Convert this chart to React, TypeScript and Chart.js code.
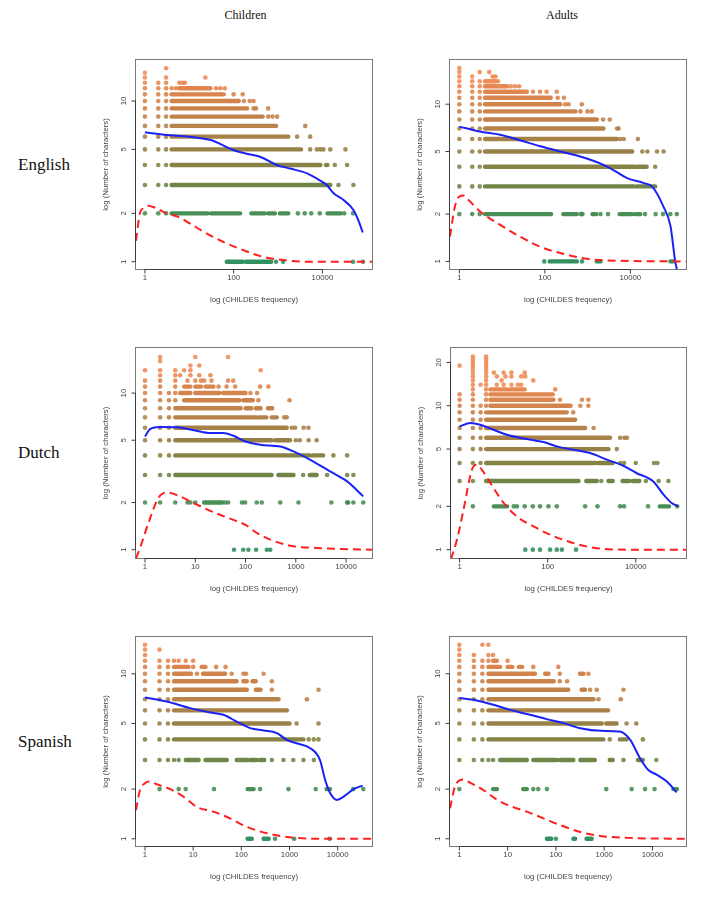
import { useEffect, useRef } from "react";
import { Chart, registerables } from "chart.js";

Chart.register(...registerables);

// A row is [number of characters, items]; a plain number is one word at that
// frequency, a pair [from, to] is a packed run of words spanning that range.
type Item = number | [number, number];
type Row = [number, Item[]];

// ---------------- English, children ----------------
const EN_CHILD_ROWS: Row[] = [
  [16, [3]],
  [15, [1]],
  [14, [1, 3, 23]],
  [13, [1, 2, 3, 6, 7, 8]],
  [12, [1, 2, 3, 4, 5, [6, 30], 40, 50, 63]],
  [11, [1, 2, 3, [4, 60], 100, 160]],
  [10, [1, 2, 3, [4, 130], 170, 230, 280]],
  [9, [1, 2, 3, [4, 200], 280, 320, 600]],
  [8, [1, 2, 3, [4, 450], 600, 750, 950]],
  [7, [1, 2, 3, [4, 900], 4100]],
  [6, [1, 2, 3, [4, 1700], 2700, 5300]],
  [5, [1, 2, 3, [4, 3300], 5300, 7500, 9000, 10500, 15000, 33000]],
  [4, [1, 2, 3, [4, 9000], 12000, 13000, 19000, 36000]],
  [3, [1, 2, 3, [4, 15000], 23000, 50000]],
  [2, [1, 2, 3, [4, 26], [31, 140], [250, 500], [600, 850], [1100, 1700], 2800, 4000, 5600, 8700, [13000, 26000], 31000, 49000]],
  [1, [[70, 160], [190, 320], [360, 700], 900, 1300, 49000, 82000]],
];
const EN_CHILD_SMOOTH_X = [1, 3.1, 10, 32, 58, 98, 197, 392, 935, 1880, 4500, 8900, 12500, 17800, 30000, 50000, 64000, 81000];
const EN_CHILD_SMOOTH_Y = [6.4, 6.15, 6.0, 5.7, 5.3, 4.96, 4.7, 4.5, 4.0, 3.8, 3.55, 3.2, 3.0, 2.67, 2.42, 2.1, 1.82, 1.52];
const EN_CHILD_DENSITY_X = [0.63, 0.77, 0.92, 1.19, 1.68, 3.1, 5.66, 10.3, 20.7, 58, 165, 470, 1320, 4500, 131000];
const EN_CHILD_DENSITY_Y = [1.35, 2.0, 2.15, 2.23, 2.17, 2.0, 1.9, 1.73, 1.54, 1.33, 1.18, 1.07, 1.025, 1.0, 1.0];
const EN_CHILD_X_LIMITS = [0.63, 131000];
const EN_CHILD_Y_LIMITS = [0.901, 18.0];

// ---------------- English, adults ----------------
const EN_ADULT_ROWS: Row[] = [
  [17, [1]],
  [16, [1, 3, 5]],
  [15, [1, 2, 6, 7]],
  [14, [1, 2, 3, [4, 7], 8]],
  [13, [1, 2, 3, [4, 13], 16, 20, 25]],
  [12, [1, 2, 3, [4, 38], 53, 77, 110, 190]],
  [11, [1, 2, 3, [4, 137], 200, 280]],
  [10, [1, 2, 3, [4, 230], 300, 360, 730]],
  [9, [1, 2, 3, [4, 520], 680, 990, 1250]],
  [8, [1, 2, 3, [4, 1650], 2300, 3300]],
  [7, [1, 2, 3, [4, 2350], 4900, 5300]],
  [6, [1, 2, 3, [4, 4800], 5800, 7000, 15000]],
  [5, [1, 2, 3, [4, 11000], 19000, 25000, 42000, 60000]],
  [4, [1, 2, 3, [4, 12000], [14000, 24000], 38000]],
  [3, [1, 2, 3, [4, 12000], [14000, 38000]]],
  [2, [1, 2, 3, [4, 140], [270, 560], 700, 760, [1300, 1600], 2000, 3000, [5600, 11000], [13000, 17000], 22000, 39000, 58000, 86000, 122000]],
  [1, [97, [130, 560], 740, [1640, 2000], [87000, 100000]]],
];
const EN_ADULT_SMOOTH_X = [1, 3, 9, 26, 78, 230, 670, 1960, 4100, 8400, 20600, 32000, 59000, 87000, 112000, 125000];
const EN_ADULT_SMOOTH_Y = [7.2, 6.7, 6.4, 5.9, 5.4, 5.0, 4.65, 4.2, 3.8, 3.39, 3.15, 3.0, 2.24, 1.67, 1.0, 0.87];
const EN_ADULT_DENSITY_X = [0.605, 0.79, 1.0, 1.24, 1.62, 3.05, 9, 26, 78, 230, 960, 4800, 200000];
const EN_ADULT_DENSITY_Y = [1.44, 2.24, 2.59, 2.63, 2.47, 2.08, 1.71, 1.44, 1.24, 1.13, 1.04, 1.01, 1.0];
const EN_ADULT_X_LIMITS = [0.605, 200000];
const EN_ADULT_Y_LIMITS = [0.895, 19.1];

// ---------------- Dutch, children ----------------
const NL_CHILD_ROWS: Row[] = [
  [17, [2, 10, 45]],
  [16, [2]],
  [15, [8, 12]],
  [14, [1, 2, 4, 6, 8, 200]],
  [13, [2, 4, 5, 8, 12, 20]],
  [12, [1, 2, 4, 7, 10, 13, 15, 21, 45, 57]],
  [11, [1, 2, 4, [6, 8], [10, 13], [16, 23], 29, 42, 62, 195, 285]],
  [10, [1, 2, 3, 4, [5, 8], [10, 30], [36, 100], 125, 170]],
  [9, [1, 2, 3, 4, [6, 75], [90, 140], 180, 750]],
  [8, [1, 2, 3, [4, 80], [100, 130], [160, 200], [280, 340]]],
  [7, [1, 2, 3, [4, 170], [190, 260], [330, 420], 590, 660]],
  [6, [1, 2, 3, [4, 660], 830, 970, 1430, 1790]],
  [5, [1, 2, 3, [4, 330], [390, 770], 1000, 1200, 1800, 2600]],
  [4, [1, 2, 3, [4, 1900], [2200, 3500], 5600, 10500]],
  [3, [1, 2, 3, [4, 330], [450, 900], 1400, [1900, 2600], 4200, 10500, 14000]],
  [2, [1, 2, 4, 7, 8, 10, [15, 34], 39, 45, 85, 98, 167, 210, 490, 1130, 5100, 10500, 11000, 14000, 22000]],
  [1, [59, 90, 114, 162, 265, 310]],
];
const NL_CHILD_SMOOTH_X = [1, 1.26, 2, 4.3, 10, 19.6, 36, 57, 100, 195, 490, 900, 1940, 4800, 10500, 22000];
const NL_CHILD_SMOOTH_Y = [5.28, 5.89, 6.07, 6.05, 5.77, 5.56, 5.56, 5.34, 4.91, 4.68, 4.56, 4.24, 3.75, 3.16, 2.73, 2.19];
const NL_CHILD_DENSITY_X = [0.662, 0.795, 1.17, 1.84, 2.7, 5, 10, 27, 57, 100, 167, 310, 780, 2600, 32800];
const NL_CHILD_DENSITY_Y = [0.88, 1.025, 1.48, 2.14, 2.32, 2.19, 1.96, 1.7, 1.55, 1.44, 1.28, 1.16, 1.06, 1.025, 1.0];
const NL_CHILD_X_LIMITS = [0.662, 32800];
const NL_CHILD_Y_LIMITS = [0.885, 19.4];

// ---------------- Dutch, adults ----------------
const NL_ADULT_ROWS: Row[] = [
  [22, [2, 4]],
  [21, [2, 4]],
  [20, [2, 4]],
  [19, [1, 2, 4]],
  [18, [2, 4]],
  [17, [2, 4, 6, 10, 15, 30]],
  [16, [2, 4, 7, 11, 15, 25, 31]],
  [15, [2, 4, 9, 47]],
  [14, [2, 3, 4, 7, 10, 15, 21, 25]],
  [13, [2, 4, [5, 12], [14, 30], 148]],
  [12, [1, 2, 4, [5, 130]]],
  [11, [1, 2, 4, [5, 135], 190, 600, 840]],
  [10, [1, 2, 3, 4, [5, 330], 550, 840]],
  [9, [1, 2, 3, [4, 270], 380]],
  [8, [1, 2, 3, [4, 420]]],
  [7, [1, 2, 3, [4, 710], 1100]],
  [6, [1, 2, 3, [4, 2600], 4400, 5500, 6300]],
  [5, [1, 2, 3, [4, 2400], 3700]],
  [4, [1, 2, 3, [4, 1200], [1400, 3000], 4400, 5400, 10000, 26000, 31000]],
  [3, [1, 2, [4, 500], [750, 1300], 1650, [2400, 3000], [5000, 7000], [8500, 12000], 17000, 33000, 55000]],
  [2, [2, [6, 12], 17, 20, 30, 46, 67, 104, 161, 707, 1350, 4400, 5400, 19000, [35000, 57000], 87000]],
  [1, [31, 46, 67, 113, 161, 210, 440]],
];
const NL_ADULT_SMOOTH_X = [1, 1.75, 2.94, 5.9, 11.8, 33.6, 80, 160, 385, 920, 2200, 5200, 10300, 25000, 42600, 65000, 92000];
const NL_ADULT_SMOOTH_Y = [7.18, 7.58, 7.38, 6.81, 6.29, 5.87, 5.6, 5.22, 4.94, 4.69, 4.22, 3.83, 3.41, 2.98, 2.41, 2.11, 2.0];
const NL_ADULT_DENSITY_X = [0.638, 0.87, 1.23, 1.9, 2.4, 3.2, 5, 10, 20, 48, 114, 385, 1100, 6300, 138000];
const NL_ADULT_DENSITY_Y = [0.86, 1.17, 1.9, 3.59, 3.89, 3.59, 2.9, 2.11, 1.7, 1.45, 1.27, 1.11, 1.03, 1.0, 1.0];
const NL_ADULT_X_LIMITS = [0.638, 138000];
const NL_ADULT_Y_LIMITS = [0.875, 25.2];

// ---------------- Spanish, children ----------------
const ES_CHILD_ROWS: Row[] = [
  [15, [1]],
  [14, [1, 2]],
  [13, [1]],
  [12, [1, 2, 3, 4, 5, 7, 10]],
  [11, [1, 2, 3, [4, 8], 10, [15, 18], 30, 47]],
  [10, [1, 2, 3, [4, 9], 12, [16, 46], 63, 110, 125, 290]],
  [9, [1, 2, 3, [4, 80], [110, 130], [170, 200], 430]],
  [8, [1, 2, 3, [4, 130], [200, 250], 430, 4000]],
  [7, [1, 2, 3, [4, 590], 2300]],
  [6, [1, 2, 3, [4, 880]]],
  [5, [1, 2, 3, [4, 1000], 1400, 4000]],
  [4, [1, 2, 3, [4, 1950], 2500, 3200, 4000]],
  [3, [1, 2, 3, 4, 5, [7, 13], [18, 50], [80, 130], [150, 210], [245, 300], 430, 750, 1200, 1950, 3200]],
  [2, [2, 5, 7, 27, [135, 180], 245, 950, 3500, [5900, 6900], 21000, 34000]],
  [1, [[135, 165], [290, 370], 500, 1250, 6800]],
];
const ES_CHILD_SMOOTH_X = [1, 2.8, 8.6, 22.5, 42.4, 80, 153, 290, 545, 880, 1400, 2700, 4300, 5500, 7000, 9700, 13300, 21500, 33000];
const ES_CHILD_SMOOTH_Y = [7.18, 6.79, 6.19, 5.82, 5.64, 5.13, 4.68, 4.53, 4.37, 3.97, 3.79, 3.54, 3.0, 2.27, 1.89, 1.72, 1.8, 2.0, 2.1];
const ES_CHILD_DENSITY_X = [0.65, 0.79, 1, 1.23, 1.75, 3.3, 6.3, 11.9, 26, 58, 130, 340, 1000, 5000, 51600];
const ES_CHILD_DENSITY_Y = [1.49, 1.98, 2.17, 2.22, 2.14, 2.0, 1.8, 1.56, 1.46, 1.33, 1.18, 1.08, 1.02, 1.0, 1.0];
const ES_CHILD_X_LIMITS = [0.65, 51600];
const ES_CHILD_Y_LIMITS = [0.904, 16.7];

// ---------------- Spanish, adults ----------------
const ES_ADULT_ROWS: Row[] = [
  [15, [1, 3, 4]],
  [14, [1]],
  [13, [1, 2, 4, 5]],
  [12, [1, 2, 3, 4, [5, 6], 10]],
  [11, [1, 2, 3, [4, 7], [10, 12.5], [17, 20], 34, 112]],
  [10, [1, 2, 3, [4, 34], 37, [60, 70], 120, [316, 372], 470]],
  [9, [1, 2, 3, [4, 90], 120, 170]],
  [8, [1, 2, 3, [4, 180], [340, 400], 510, 700, 2500]],
  [7, [1, 2, 3, [4, 600], 760, 2200]],
  [6, [1, 2, 3, [4, 1200]]],
  [5, [1, 2, 3, [4, 890], [1100, 1800], 2900, 4600]],
  [4, [1, 2, 3, [4, 960], 1300, [2100, 2900], 6300]],
  [3, [1, 2, 3, 4, 5, [7, 25], [34, 104], [120, 230], [320, 640], [1300, 1500], 2500, [5000, 6300], 12000]],
  [2, [1, [5, 6], [21, 25], 34, 43, 65, 1100, 3700, 7000, 11000, [27000, 32000]]],
  [1, [[65, 80], 100, [230, 250], [430, 550]]],
];
const ES_ADULT_SMOOTH_X = [1, 2.3, 5.1, 11.2, 29, 64, 143, 318, 860, 2100, 3450, 5500, 8200, 12300, 19800, 31500];
const ES_ADULT_SMOOTH_Y = [7.12, 6.89, 6.49, 6.04, 5.64, 5.31, 5.02, 4.68, 4.51, 4.46, 3.97, 3.08, 2.61, 2.44, 2.22, 1.91];
const ES_ADULT_DENSITY_X = [0.641, 0.81, 1.03, 1.21, 1.66, 3.1, 5.95, 11.2, 24.8, 55, 122, 318, 820, 4000, 49300];
const ES_ADULT_DENSITY_Y = [1.53, 2.07, 2.27, 2.29, 2.19, 1.98, 1.73, 1.58, 1.46, 1.33, 1.21, 1.1, 1.04, 1.01, 1.0];
const ES_ADULT_X_LIMITS = [0.641, 49300];
const ES_ADULT_Y_LIMITS = [0.904, 16.7];

// ---------------- tick labels ----------------
const X_TICKS_SPARSE = [1, 100, 10000];
const X_TICKS_DECADES = [1, 10, 100, 1000, 10000];
const Y_TICKS = [1, 2, 5, 10];
const Y_TICKS_WIDE = [1, 2, 5, 10, 20];

const COLUMN_TITLES = ["Children", "Adults"];
const ROW_TITLES = ["English", "Dutch", "Spanish"];
const X_TITLE = "log (CHILDES frequency)";
const Y_TITLE = "log (Number of characters)";

// ---------------- styling ----------------
const PAGE_W = 717;
const PAGE_H = 903;

// green (short words) to orange (long words)
const LEVEL_RGB: [number, number, number][] = [
  [40, 138, 88],
  [62, 136, 76],
  [104, 128, 62],
  [128, 124, 58],
  [146, 122, 60],
  [162, 122, 62],
  [178, 124, 64],
  [190, 124, 64],
  [200, 124, 64],
  [208, 125, 66],
  [216, 126, 68],
  [224, 128, 70],
  [230, 130, 72],
  [238, 134, 78],
];

function levelColor(level: number, alpha: number): string {
  const idx = Math.max(0, Math.min(LEVEL_RGB.length - 1, Math.round(level) - 1));
  const [r, g, b] = LEVEL_RGB[idx];
  return `rgba(${r},${g},${b},${alpha})`;
}

interface PanelCfg {
  box: [number, number, number, number]; // left, top, right, bottom of the plot region
  rows: Row[];
  smoothX: number[];
  smoothY: number[];
  densityX: number[];
  densityY: number[];
  xLimits: number[];
  yLimits: number[];
  xTicks: number[];
  yTicks: number[];
}

const PANELS: PanelCfg[] = [
  { box: [136, 60, 372, 269], rows: EN_CHILD_ROWS, smoothX: EN_CHILD_SMOOTH_X, smoothY: EN_CHILD_SMOOTH_Y, densityX: EN_CHILD_DENSITY_X, densityY: EN_CHILD_DENSITY_Y, xLimits: EN_CHILD_X_LIMITS, yLimits: EN_CHILD_Y_LIMITS, xTicks: X_TICKS_SPARSE, yTicks: Y_TICKS },
  { box: [450, 60, 686, 269], rows: EN_ADULT_ROWS, smoothX: EN_ADULT_SMOOTH_X, smoothY: EN_ADULT_SMOOTH_Y, densityX: EN_ADULT_DENSITY_X, densityY: EN_ADULT_DENSITY_Y, xLimits: EN_ADULT_X_LIMITS, yLimits: EN_ADULT_Y_LIMITS, xTicks: X_TICKS_SPARSE, yTicks: Y_TICKS },
  { box: [136, 348, 372, 558], rows: NL_CHILD_ROWS, smoothX: NL_CHILD_SMOOTH_X, smoothY: NL_CHILD_SMOOTH_Y, densityX: NL_CHILD_DENSITY_X, densityY: NL_CHILD_DENSITY_Y, xLimits: NL_CHILD_X_LIMITS, yLimits: NL_CHILD_Y_LIMITS, xTicks: X_TICKS_DECADES, yTicks: Y_TICKS },
  { box: [451, 348, 686, 558], rows: NL_ADULT_ROWS, smoothX: NL_ADULT_SMOOTH_X, smoothY: NL_ADULT_SMOOTH_Y, densityX: NL_ADULT_DENSITY_X, densityY: NL_ADULT_DENSITY_Y, xLimits: NL_ADULT_X_LIMITS, yLimits: NL_ADULT_Y_LIMITS, xTicks: X_TICKS_SPARSE, yTicks: Y_TICKS_WIDE },
  { box: [136, 637, 372, 846], rows: ES_CHILD_ROWS, smoothX: ES_CHILD_SMOOTH_X, smoothY: ES_CHILD_SMOOTH_Y, densityX: ES_CHILD_DENSITY_X, densityY: ES_CHILD_DENSITY_Y, xLimits: ES_CHILD_X_LIMITS, yLimits: ES_CHILD_Y_LIMITS, xTicks: X_TICKS_DECADES, yTicks: Y_TICKS },
  { box: [450, 637, 686, 846], rows: ES_ADULT_ROWS, smoothX: ES_ADULT_SMOOTH_X, smoothY: ES_ADULT_SMOOTH_Y, densityX: ES_ADULT_DENSITY_X, densityY: ES_ADULT_DENSITY_Y, xLimits: ES_ADULT_X_LIMITS, yLimits: ES_ADULT_Y_LIMITS, xTicks: X_TICKS_DECADES, yTicks: Y_TICKS },
];

const AXIS_FONT = '7.8px "Liberation Sans", Arial, sans-serif';

// Draws R-style axes: grey frame, outward ticks, rotated y labels, titles.
function makeAxesPlugin(xTicks: number[], yTicks: number[]) {
  return {
    id: "rAxes",
    afterDraw(chart: any) {
      const { ctx, chartArea: a } = chart;
      const xs = chart.scales.x;
      const ys = chart.scales.y;
      const L = Math.round(a.left);
      const R = Math.round(a.right);
      const T = Math.round(a.top);
      const B = Math.round(a.bottom);
      ctx.save();
      ctx.lineWidth = 1;
      ctx.strokeStyle = "#7a7a7a";
      ctx.strokeRect(L - 0.5, T - 0.5, R - L + 1, B - T + 1);

      ctx.strokeStyle = "#3c3c3c";
      ctx.fillStyle = "#444";
      ctx.font = AXIS_FONT;

      // x axis
      const xp = xTicks.map((v) => xs.getPixelForValue(v));
      const by = B + 0.5;
      ctx.beginPath();
      ctx.moveTo(xp[0], by);
      ctx.lineTo(xp[xp.length - 1], by);
      xp.forEach((px) => {
        ctx.moveTo(px, by);
        ctx.lineTo(px, by + 4);
      });
      ctx.stroke();
      ctx.textAlign = "center";
      ctx.textBaseline = "middle";
      xTicks.forEach((v, i) => ctx.fillText(String(v), xp[i], B + 9));

      // y axis
      const yp = yTicks.map((v) => ys.getPixelForValue(v));
      const lx = L - 0.5;
      ctx.beginPath();
      ctx.moveTo(lx, yp[0]);
      ctx.lineTo(lx, yp[yp.length - 1]);
      yp.forEach((py) => {
        ctx.moveTo(lx, py);
        ctx.lineTo(lx - 4, py);
      });
      ctx.stroke();
      yTicks.forEach((v, i) => {
        ctx.save();
        ctx.translate(L - 12.5, yp[i]);
        ctx.rotate(-Math.PI / 2);
        ctx.fillText(String(v), 0, 0);
        ctx.restore();
      });

      // titles
      ctx.fillText(X_TITLE, (L + R) / 2, B + 31);
      ctx.save();
      ctx.translate(L - 30, (T + B) / 2);
      ctx.rotate(-Math.PI / 2);
      ctx.fillText(Y_TITLE, 0, 0);
      ctx.restore();

      ctx.restore();
    },
  };
}

function buildConfig(p: PanelCfg): any {
  const [left, top, right, bottom] = p.box;
  const dots: { x: number; y: number }[] = [];
  const runSets: any[] = [];
  for (const [level, items] of p.rows) {
    const run: { x: number; y: number | null }[] = [];
    for (const it of items) {
      if (Array.isArray(it)) {
        run.push({ x: it[0], y: level }, { x: it[1], y: level }, { x: it[1], y: null });
      } else {
        dots.push({ x: it, y: level });
      }
    }
    if (run.length) {
      runSets.push({
        type: "line",
        data: run,
        borderColor: levelColor(level, 0.95),
        borderWidth: 4.4,
        borderCapStyle: "round",
        borderJoinStyle: "round",
        pointRadius: 0,
        tension: 0,
        spanGaps: false,
        clip: 0,
        order: 3,
      });
    }
  }

  const smooth = {
    type: "line",
    data: p.smoothX.map((x, i) => ({ x, y: p.smoothY[i] })),
    borderColor: "#1a22f5",
    borderWidth: 2,
    pointRadius: 0,
    cubicInterpolationMode: "monotone",
    clip: 0,
    order: 1,
  };
  const density = {
    type: "line",
    data: p.densityX.map((x, i) => ({ x, y: p.densityY[i] })),
    borderColor: "#ff1f1f",
    borderWidth: 2,
    borderDash: [8, 5],
    pointRadius: 0,
    cubicInterpolationMode: "monotone",
    clip: 0,
    order: 0,
  };
  const points = {
    type: "scatter",
    data: dots,
    pointRadius: 2.3,
    pointBorderWidth: 0,
    backgroundColor: (c: any) => levelColor(c.raw ? c.raw.y : 1, 0.85),
    clip: 0,
    order: 2,
  };

  return {
    type: "scatter",
    data: { datasets: [density, smooth, points, ...runSets] },
    options: {
      responsive: false,
      animation: false,
      events: [],
      layout: { padding: { left, top, right: PAGE_W - right, bottom: PAGE_H - bottom } },
      scales: {
        x: { type: "logarithmic", min: p.xLimits[0], max: p.xLimits[1], bounds: "data", display: false },
        y: { type: "logarithmic", min: p.yLimits[0], max: p.yLimits[1], bounds: "data", display: false },
      },
      plugins: { legend: { display: false }, tooltip: { enabled: false } },
    },
    plugins: [makeAxesPlugin(p.xTicks, p.yTicks)],
  };
}

function Panel({ cfg }: { cfg: PanelCfg }) {
  const ref = useRef<HTMLCanvasElement>(null);
  useEffect(() => {
    if (!ref.current) return;
    const chart = new Chart(ref.current, buildConfig(cfg));
    return () => chart.destroy();
  }, [cfg]);
  return (
    <canvas
      ref={ref}
      width={PAGE_W}
      height={PAGE_H}
      style={{ position: "absolute", left: 0, top: 0, width: PAGE_W, height: PAGE_H }}
    />
  );
}

const serif = '"Liberation Serif", "Times New Roman", serif';

export default function App() {
  const colCenters = [245.5, 562];
  const rowCenters = [164.5, 453, 741.5];
  return (
    <div style={{ position: "absolute", left: 0, top: 0, width: PAGE_W, height: PAGE_H, background: "#fff", overflow: "hidden" }}>
      {COLUMN_TITLES.map((t, i) => (
        <div
          key={t}
          style={{ position: "absolute", left: colCenters[i] - 60, width: 120, top: 15, transform: "translateY(-50%)", textAlign: "center", fontFamily: serif, fontSize: 12, color: "#111", lineHeight: "14px" }}
        >
          {t}
        </div>
      ))}
      {ROW_TITLES.map((t, i) => (
        <div
          key={t}
          style={{ position: "absolute", left: 18, top: rowCenters[i], transform: "translateY(-50%)", fontFamily: serif, fontSize: 17, color: "#111", lineHeight: "20px" }}
        >
          {t}
        </div>
      ))}
      {PANELS.map((p, i) => (
        <Panel key={i} cfg={p} />
      ))}
    </div>
  );
}
